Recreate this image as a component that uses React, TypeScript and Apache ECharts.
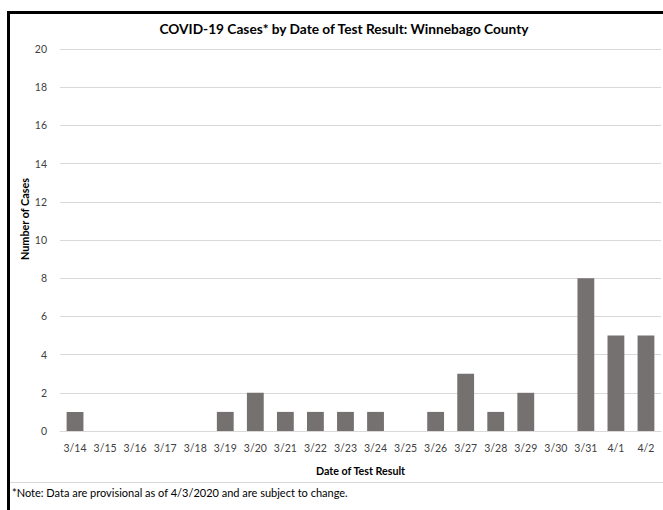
import React, { useEffect, useRef } from "react";
import * as echarts from "echarts";

const categories = ["3/14","3/15","3/16","3/17","3/18","3/19","3/20","3/21","3/22","3/23","3/24","3/25","3/26","3/27","3/28","3/29","3/30","3/31","4/1","4/2"];
const cases = [1,0,0,0,0,1,2,1,1,1,1,0,1,3,1,2,0,8,5,5];
const titleText = "COVID-19 Cases* by Date of Test Result: Winnebago County";
const yAxisTitle = "Number of Cases";
const xAxisTitle = "Date of Test Result";
const noteText = "*Note: Data are provisional as of 4/3/2020 and are subject to change.";

const FONT = "Lato, 'Open Sans', sans-serif";

export default function App() {
  const ref = useRef<HTMLDivElement>(null);
  useEffect(() => {
    if (!ref.current) return;
    const chart = echarts.init(ref.current, null, { renderer: "svg" });
    chart.setOption({
      animation: false,
      backgroundColor: "#ffffff",
      title: {
        text: titleText,
        left: 339,
        textAlign: "center",
        top: 16,
        textStyle: { fontFamily: FONT, fontSize: 13.7, fontWeight: "bold", color: "#000000" },
      },
      grid: { left: 60, right: 2, top: 49, bottom: 79, containLabel: false },
      xAxis: {
        type: "category",
        data: categories,
        name: xAxisTitle,
        nameLocation: "middle",
        nameGap: 34,
        nameTextStyle: { fontFamily: FONT, fontSize: 10.7, fontWeight: "bold", color: "#000000" },
        axisLine: { lineStyle: { color: "#d9d9d9" } },
        axisTick: { show: false },
        axisLabel: { fontFamily: FONT, fontSize: 10.5, color: "#404040", margin: 11, interval: 0 },
      },
      yAxis: {
        type: "value",
        min: 0,
        max: 20,
        interval: 2,
        axisLine: { show: false },
        axisTick: { show: false },
        axisLabel: { fontFamily: FONT, fontSize: 10.5, color: "#404040", margin: 13 },
        splitLine: { lineStyle: { color: "#d9d9d9" } },
      },
      series: [
        {
          type: "bar",
          data: cases,
          barWidth: "56%",
          itemStyle: { color: "#767171" },
        },
      ],
      graphic: [
        { type: "rect", shape: { x: 7, y: 11, width: 656, height: 3 }, style: { fill: "#000000" } },
        { type: "rect", shape: { x: 7, y: 11, width: 3, height: 499 }, style: { fill: "#000000" } },
        { type: "line", shape: { x1: 10, y1: 482.5, x2: 663, y2: 482.5 }, style: { stroke: "#d9d9d9", lineWidth: 1 } },
        {
          type: "text",
          x: 24,
          y: 219,
          rotation: Math.PI / 2,
          style: { text: yAxisTitle, fontFamily: FONT, fontSize: 10.8, fontWeight: "bold", fill: "#000000", align: "center", verticalAlign: "middle" },
        },
        {
          type: "text",
          x: 12,
          y: 492,
          style: { text: noteText, fontFamily: FONT, fontSize: 11, fill: "#000000", align: "left", verticalAlign: "middle" },
        },
      ],
    });
    return () => chart.dispose();
  }, []);
  return <div ref={ref} style={{ position: "fixed", left: 0, top: 0, width: 663, height: 510 }} />;
}
